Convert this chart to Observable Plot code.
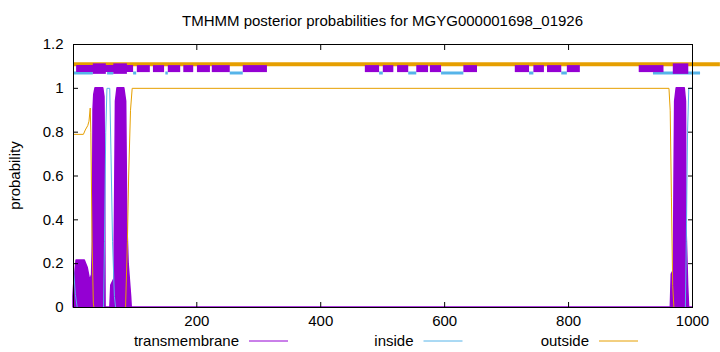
<!DOCTYPE html>
<html>
<head>
<meta charset="utf-8">
<script src="https://cdn.jsdelivr.net/npm/d3@7"></script>
<script src="https://cdn.jsdelivr.net/npm/@observablehq/plot@0.6"></script>
<style>
  html, body { margin: 0; padding: 0; background: #fff; }
  #chart { width: 720px; height: 352px; }
</style>
</head>
<body>
<div id="chart"></div>
<script>
// ---- data ----
const titleText = "TMHMM posterior probabilities for MGYG000001698_01926";
const yLabelText = "probability";

const xTicks = [200, 400, 600, 800, 1000];
const xTickLabels = ["200", "400", "600", "800", "1000"];
const yTicks = [0, 0.2, 0.4, 0.6, 0.8, 1, 1.2];
const yTickLabels = ["0", "0.2", "0.4", "0.6", "0.8", "1", "1.2"];

const seriesNames = ["transmembrane", "inside", "outside"];
const seriesColors = ["#9400d3", "#56b4e9", "#e69f00"];

// posterior probability: transmembrane [residue, p]
const tmProb = [[1,0.05],[2,0.1],[6,0.215],[19,0.215],[24,0.18],[28,0.12],[31,0.15],[32.3,0.3],[33.3,0.9],[34.5,0.97],[36.5,1],[49,1],[51,0.96],[52,0.6],[52.8,0],[60.5,0],[62,0.1],[67,0.13],[68.5,0.6],[69.5,0.94],[72,1],[83,1],[86,0.94],[87.7,0.4],[90,0.2],[94,0.05],[95,0],[965,0],[966.5,0.15],[970,0.17],[971,0.6],[972,0.94],[974.5,1],[987.5,1],[989.5,0.94],[990.5,0.35],[993,0.1],[994.5,0],[1000,0]];
// posterior probability: inside
const insideProb = [[1,0.18],[4,0.06],[7,0],[49.5,0],[51,0.3],[53,0.8],[55,1],[59.5,1],[61.5,0.7],[64,0.3],[67,0.05],[69,0],[988.5,0],[990,0.3],[992,0.8],[994,1],[1000,1]];
// posterior probability: outside
const outsideProb = [[1,0.79],[17,0.79],[20,0.81],[24,0.83],[26,0.85],[28,0.91],[29,0.8],[31,0.3],[33,0.02],[34,0],[85,0],[88,0.3],[90,0.6],[93,0.9],[95.7,1],[962,1],[964,0.9],[966,0.5],[968,0.1],[970,0],[1000,0]];

// predicted topology segments drawn above the curves [start, end]
const outsideLevel = 1.11, tmLevel = 1.09, insideLevel = 1.07;
const topOutside = [[1,1045]];
const topInside = [[1,33],[56,66],[98,103],[150,154],[254,275],[495,501],[542,555],[595,631],[737,744],[789,798],[937,1013]];
const topTM = [[6,98],[104,125],[130,148],[154,174],[179,195],[201,222],[225,254],[275,314],[472,495],[501,518],[524,542],[555,574],[577,595],[631,653],[714,737],[744,761],[766,789],[798,819],[914,954]];
const topHelix = [[33,54],[66,88],[969,994]];

// ---- chart ----
const FONT = "'Liberation Sans', Arial, sans-serif";
const FS = "15px";
const xLabelMap = new Map(xTicks.map((t, i) => [t, xTickLabels[i]]));
const yLabelMap = new Map(yTicks.map((t, i) => [t, yTickLabels[i]]));

const plot = Plot.plot({
  width: 720,
  height: 352,
  marginLeft: 73,
  marginRight: 28,
  marginTop: 44,
  marginBottom: 45,
  style: { fontFamily: FONT, fontSize: FS, color: "black", background: "white", overflow: "visible" },
  x: { domain: [1, 1000] },
  y: { domain: [0, 1.2] },
  marks: [
    Plot.areaY(tmProb, { x: d => d[0], y: d => d[1], fill: seriesColors[0], stroke: seriesColors[0], strokeWidth: 1.5, strokeLinejoin: "round" }),
    Plot.line(insideProb, { x: d => d[0], y: d => d[1], stroke: seriesColors[1], strokeWidth: 1 }),
    Plot.line(outsideProb, { x: d => d[0], y: d => d[1], stroke: seriesColors[2], strokeWidth: 1 }),
    Plot.ruleY(topInside, { x1: d => d[0], x2: d => d[1], y: () => insideLevel, stroke: seriesColors[1], strokeWidth: 3 }),
    Plot.ruleY(topOutside, { x1: d => d[0], x2: d => d[1], y: () => outsideLevel, stroke: seriesColors[2], strokeWidth: 4 }),
    Plot.ruleY(topTM, { x1: d => d[0], x2: d => d[1], y: () => tmLevel, stroke: seriesColors[0], strokeWidth: 7 }),
    Plot.ruleY(topHelix, { x1: d => d[0], x2: d => d[1], y: () => tmLevel, stroke: seriesColors[0], strokeWidth: 10.5 }),
    // tick labels
    Plot.axisX({ ticks: xTicks, anchor: "bottom", tickSize: 0, tickPadding: 8, tickFormat: d => xLabelMap.get(d), label: null }),
    Plot.axisY({ ticks: yTicks, anchor: "left", tickSize: 0, tickPadding: 10, tickFormat: d => yLabelMap.get(d), label: null }),
    // inward ticks on all sides
    Plot.axisX({ ticks: xTicks, anchor: "bottom", tickSize: -5, fill: "none", label: null }),
    Plot.axisX({ ticks: xTicks, anchor: "top", tickSize: -5, fill: "none", label: null }),
    Plot.axisY({ ticks: yTicks, anchor: "left", tickSize: -5, fill: "none", label: null }),
    Plot.axisY({ ticks: yTicks, anchor: "right", tickSize: -5, fill: "none", label: null }),
    Plot.frame({ stroke: "black", strokeWidth: 1 })
  ]
});

document.getElementById("chart").appendChild(plot);

// title, y label, legend
const svg = d3.select(plot);
const cx = (73 + 692) / 2;
svg.append("text")
  .attr("x", cx).attr("y", 21).attr("dy", "0.35em")
  .attr("text-anchor", "middle")
  .attr("font-family", FONT).attr("font-size", FS).attr("fill", "black")
  .text(titleText);
svg.append("text")
  .attr("transform", "translate(15,175.5) rotate(-90)")
  .attr("dy", "0.35em")
  .attr("text-anchor", "middle")
  .attr("font-family", FONT).attr("font-size", FS).attr("fill", "black")
  .text(yLabelText);

const legendTextEnd = [239, 413.5, 589];
const legend = svg.append("g");
seriesNames.forEach((name, i) => {
  legend.append("text")
    .attr("x", legendTextEnd[i]).attr("y", 341).attr("dy", "0.35em")
    .attr("text-anchor", "end")
    .attr("font-family", FONT).attr("font-size", FS).attr("fill", "black")
    .text(name);
  legend.append("line")
    .attr("x1", legendTextEnd[i] + 10).attr("x2", legendTextEnd[i] + 49)
    .attr("y1", 341).attr("y2", 341)
    .attr("stroke", seriesColors[i]).attr("stroke-width", 1);
});
</script>
</body>
</html>
